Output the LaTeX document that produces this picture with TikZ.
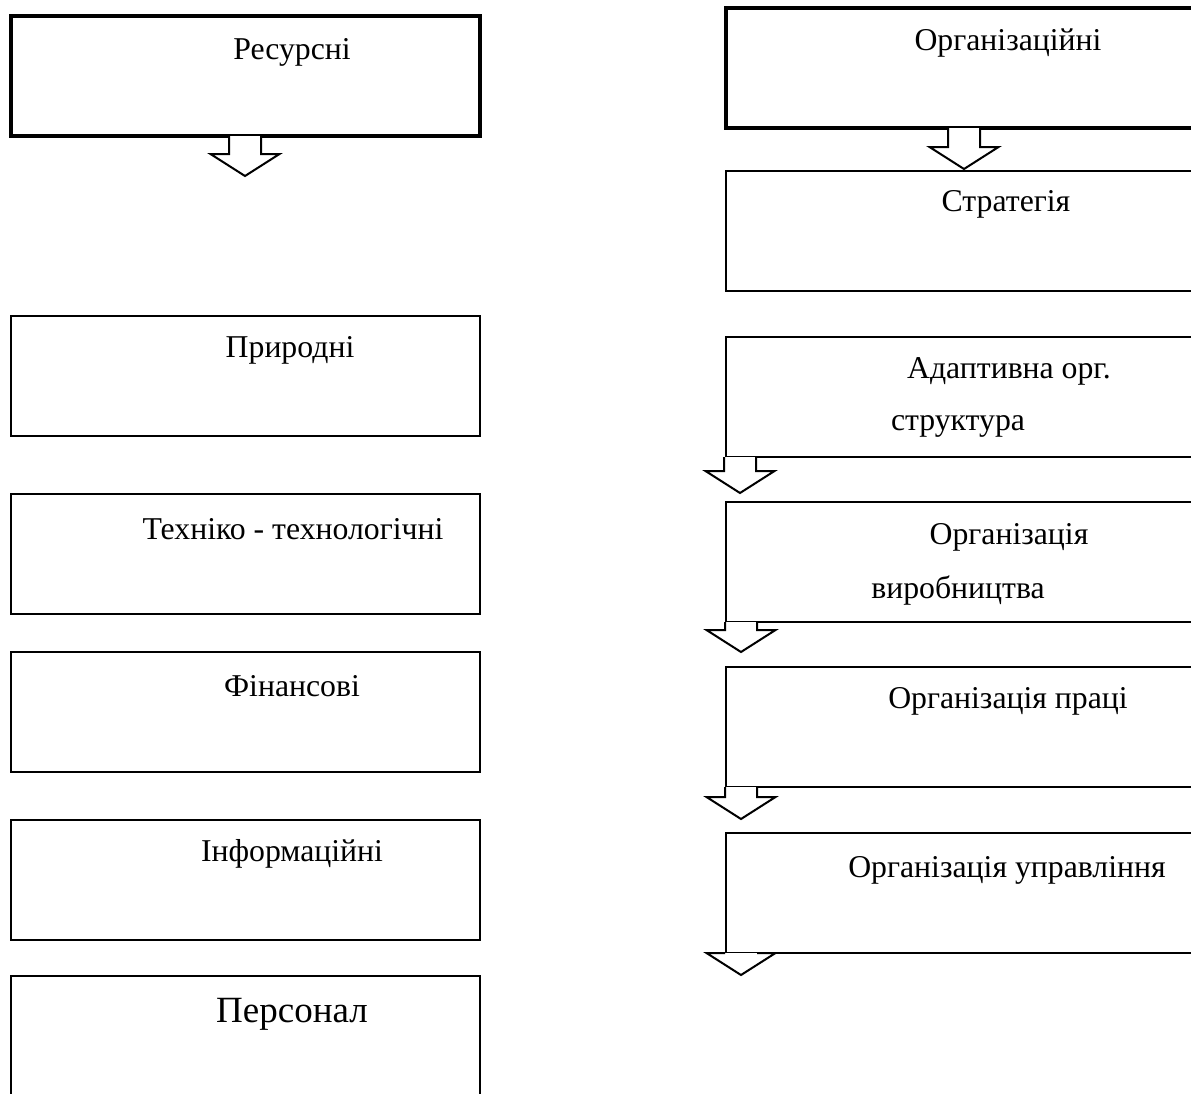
\documentclass[tikz,border=0pt]{standalone}
\usepackage{fontspec}
\setmainfont{Liberation Serif}
\usetikzlibrary{calc}

\tikzset{
    box/.style={draw, line width=0.8pt, rectangle, anchor=north west, outer sep=0pt,
        inner sep=0pt, minimum height=48pt},
    leftbox/.style={box, minimum width=187.6pt},
    rightbox/.style={box, minimum width=225.6pt},
    heavy/.style={line width=1.8pt},
    lbl/.style={font=\fontsize{12.7pt}{15pt}\selectfont, inner sep=0pt},
    pics/downarrow/.style={code={
        \draw[line width=0.8pt, line join=miter, fill=white]
            (-16,0) -- (-16,#1) -- (-34.5,#1) -- (0,#1+22) -- (34.5,#1) -- (16,#1) -- (16,0);
    }}
}

\begin{document}
\begin{tikzpicture}[x=0.4pt, y=-0.4pt]
    \useasboundingbox (0,0) rectangle (1191,1093);
    \clip (0,0) rectangle (1191,1093);

    % Left column: resources
    \node[leftbox, heavy] (res) at (11,16) {};
    \node[lbl] (res-t) at (292,52) {Ресурсні};
    \pic at ($(res.south west)+(234,0)$) {downarrow=18};

    \node[leftbox] (nat) at (11,316) {};
    \node[lbl] (nat-t) at (290,350) {Природні};

    \node[leftbox] (tech) at (11,494) {};
    \node[lbl] (tech-t) at (293,529) {Техніко - технологічні};

    \node[leftbox] (fin) at (11,652) {};
    \node[lbl] (fin-t) at (292,686) {Фінансові};

    \node[leftbox] (inf) at (11,820) {};
    \node[lbl] (inf-t) at (292,854) {Інформаційні};

    \node[leftbox, minimum height=60pt] (pers) at (11,976) {};
    \node[lbl, font=\fontsize{14.8pt}{18pt}\selectfont] (pers-t) at (292,1014) {Персонал};

    % Right column: organisation
    \node[rightbox, heavy] (org) at (726,8) {};
    \node[lbl] (org-t) at (1008,43) {Організаційні};
    \pic at ($(org.south west)+(238,0)$) {downarrow=19};

    \node[rightbox] (strat) at (726,171) {};
    \node[lbl] (strat-t) at (1006,204) {Стратегія};

    \node[rightbox] (adapt) at (726,337) {};
    \node[lbl] (adapt-t1) at (1009,371) {Адаптивна орг.};
    \node[lbl] (adapt-t2) at (958,426) {структура};
    \pic at ($(adapt.south west)+(14,0)$) {downarrow=14};

    \node[rightbox] (prod) at (726,502) {};
    \node[lbl] (prod-t1) at (1009,537) {Організація};
    \node[lbl] (prod-t2) at (958,591) {виробництва};
    \pic at ($(prod.south west)+(15,0)$) {downarrow=8};

    \node[rightbox] (lab) at (726,667) {};
    \node[lbl] (lab-t) at (1008,701) {Організація праці};
    \pic at ($(lab.south west)+(15,0)$) {downarrow=10};

    \node[rightbox] (mgmt) at (726,833) {};
    \node[lbl] (mgmt-t) at (1007,870) {Організація управління};
    \pic at ($(mgmt.south west)+(15,0)$) {downarrow=0};
\end{tikzpicture}
\end{document}
